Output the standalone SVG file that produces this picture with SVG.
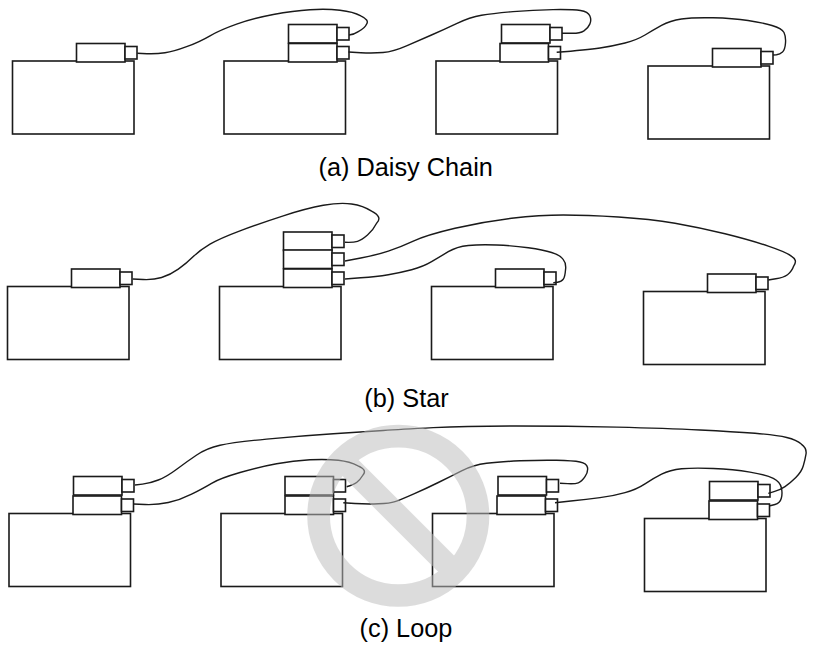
<svg xmlns="http://www.w3.org/2000/svg" width="813" height="649" viewBox="0 0 813 649">
<style>
.b{fill:#fff;stroke:#1a1a1a;stroke-width:1.6}
.w{fill:none;stroke:#1a1a1a;stroke-width:1.4}
.t{font-family:"Liberation Sans",Arial,sans-serif;font-size:25.3px;fill:#000;text-anchor:middle}
</style>
<defs>
<symbol id="pc" overflow="visible"><rect class="b" x="0" y="0" width="121.5" height="73"/></symbol>
<symbol id="card" overflow="visible"><rect class="b" x="0" y="0" width="48.5" height="18.5"/><rect class="b" x="48.5" y="3" width="12" height="12.5"/></symbol>
</defs>
<rect width="813" height="649" fill="#fff"/>
<g id="node-a1"><use href="#pc" x="12.5" y="61"/><use href="#card" x="76.5" y="43.5"/></g>
<g id="node-a2"><use href="#pc" x="224" y="61"/><use href="#card" x="288.5" y="24.5"/><use href="#card" x="288.5" y="43.5"/></g>
<g id="node-a3"><use href="#pc" x="436" y="61"/><use href="#card" x="501.5" y="24.5"/><use href="#card" x="500" y="43.5"/></g>
<g id="node-a4"><use href="#pc" x="648" y="66"/><use href="#card" x="712.5" y="48.5"/></g>
<g id="node-b1"><use href="#pc" x="7.5" y="286.5"/><use href="#card" x="71.5" y="269"/></g>
<g id="node-b2"><use href="#pc" x="219.5" y="286.5"/><use href="#card" x="283.5" y="232"/><use href="#card" x="283.5" y="250"/><use href="#card" x="283.5" y="269"/></g>
<g id="node-b3"><use href="#pc" x="431.5" y="286.5"/><use href="#card" x="495.5" y="269"/></g>
<g id="node-b4"><use href="#pc" x="643.5" y="291.5"/><use href="#card" x="707.5" y="274"/></g>
<g id="node-c1"><use href="#pc" x="9" y="513.5"/><use href="#card" x="73.5" y="476.5"/><use href="#card" x="73" y="496"/></g>
<g id="node-c2"><use href="#pc" x="221" y="513.5"/><use href="#card" x="285" y="476.5"/><use href="#card" x="285" y="496"/></g>
<g id="node-c3"><use href="#pc" x="432.5" y="513.5"/><use href="#card" x="498" y="476.5"/><use href="#card" x="497" y="496"/></g>
<g id="node-c4"><use href="#pc" x="644.5" y="518.5"/><use href="#card" x="709.5" y="481.5"/><use href="#card" x="709" y="501"/></g>
<g id="connectors">
<path class="w" d="M137.3 53.3 L147 53.7 Q156.7 54 165 52.8 Q173.3 51.7 186.6 46.7 Q200 41.7 210 35.8 Q220 30 236.6 24.1 Q253.3 18.3 273.3 14.5 Q293.3 10.7 310 9.7 Q326.7 8.7 340 10.2 Q353.3 11.7 360.8 15.8 Q369.5 20 366.6 24.1 Q365 28.3 358.3 31.6 Q354 34.5 349 35"/>
<path class="w" d="M348.5 52 L360.8 52.7 Q373 53.3 383 52.5 Q393 51.7 406.5 45.8 Q420 40 431.5 35 Q443 30 456.5 23.6 Q470 17.3 481.5 15.3 Q493 13.3 513 11.6 Q533 10 553 9.6 Q573 9.3 580.5 10.5 Q588 11.7 589.8 15.8 Q591.7 20 589.8 24.1 Q588 28.3 584 30.8 Q580 33.3 572.5 33.3 L562 33.3"/>
<path class="w" d="M556.7 52.3 Q586.7 50 600 48 Q613 46 625 43 Q636.7 40 645 35 Q653 30 661.5 25.3 Q670 20.7 681.5 19 Q693 17.3 713 17.8 Q733 18.3 748 20.5 Q763 22.7 772 25.5 Q781.7 28.3 784 32.5 Q786 36.7 785.5 43 Q785 50 782.5 52 Q780 54.3 776.5 54.7 L773 55"/>
<path class="w" d="M132.7 279 L143 279.5 Q153.3 280 161.6 277.5 Q170 275 178.3 269.1 Q186.7 263.3 193.3 256.6 Q200 250 210 244.1 Q220 238.3 240 230.8 Q260 223.3 283.3 215.8 Q306.7 208.3 323.3 205.3 Q340 202.3 351.6 204 Q363.3 205.7 371.6 211.2 Q383 217 376.6 223.3 Q373.3 230 367.5 235 Q361.7 240 357.5 241.3 Q353.3 242.7 345 242.3"/>
<path class="w" d="M345 261 L360.8 258 Q376.7 255 388.3 251.1 Q400 247.3 413.3 241.1 Q426.7 235 455 228.3 Q483.3 221.7 511.6 218.3 Q540 215 563.3 215 Q586.7 215 618.3 217 Q650 219 675 223.3 Q700 227.7 725 233.8 Q750 240 768.3 246.1 Q786.7 252.3 791.3 256.1 Q798 260 793.8 265.8 Q791.7 271.7 787.5 274.7 Q783.3 277.7 775.8 278.8 L768.3 280"/>
<path class="w" d="M345 279 L360.8 277.8 Q376.7 276.7 388.3 274.7 Q400 272.7 411.6 269.7 Q423.3 266.7 431.6 261.7 Q440 256.7 448.3 251.7 Q456.7 246.7 468.3 245.5 Q480 244.3 496.6 245 Q513.3 245.7 528.3 247.8 Q543.3 250 551.6 252.5 Q560 255 563 259.1 Q566.5 263.3 565.5 270 Q565 276.7 563.3 279.2 Q561.7 281.7 557.5 282.2 L553.3 282.7"/>
<path class="w" d="M135 485 L142.5 484.1 Q150 483.3 158.3 480 Q166.7 476.7 176.7 469.2 Q186.7 461.7 196.7 455 Q206.7 448.3 220 445.3 Q233.3 442.3 266.6 439.1 Q300 436 333.3 433.8 Q366.7 431.7 383.3 430.5 Q400 429.3 433.3 427.6 Q466.7 426 516.7 426 Q566.7 426 616.7 427.1 Q666.7 428.3 700 430 Q733.3 431.7 755 433.3 Q776.7 435 786.7 437.5 Q796.7 440 801.3 444.1 Q807 448.3 806 454.1 Q805 460 803.3 465.8 Q801.7 471.7 795.8 477.5 Q790 483.3 785 486.6 Q780 490 774 491.6 L768.3 493.3"/>
<path class="w" d="M133.3 504 L145 504.5 Q156.7 505 168.3 502.5 Q180 500 191.6 494.1 Q203.3 488.3 211.6 483.3 Q220 478.3 240 472.5 Q260 466.7 276.6 463.7 Q293.3 460.7 310 459.8 Q326.7 459 338.3 460.3 Q350 461.7 358 465.8 Q367.5 470 363 475 Q360 480 356.6 482.5 Q353.3 485 346.7 486.7"/>
<path class="w" d="M343.3 502.7 L355 503.5 Q366.7 504.3 378.3 503.8 Q390 503.3 395 501.6 Q400 500 413.3 494.1 Q426.7 488.3 438.3 482.5 Q450 476.7 461.6 470.8 Q473.3 465 486.6 463.3 Q500 461.7 520 460.8 Q540 460 556.6 460.3 Q573.3 460.7 580 462 Q586.7 463.3 587.5 467.5 Q588.3 471.7 585 476.7 Q581.7 481.7 578.3 482.8 Q575 484 567.5 483.6 L560 483.3"/>
<path class="w" d="M555 502.7 L570.8 501 Q586.7 499.3 600 497.6 Q613.3 496 625 492.6 Q636.7 489.3 645 483.8 Q653.3 478.3 661.6 474.1 Q670 470 681.6 468.8 Q693.3 467.7 713.3 468.5 Q733.3 469.3 750 472.1 Q766.7 475 773.3 478.3 Q780 481.7 781.3 487.5 Q782.7 493.3 781.3 498.3 Q780 503.3 775 504.5 L770 505.7"/>
</g>
<text class="t" x="405.7" y="176">(a) Daisy Chain</text>
<text class="t" x="406.5" y="406.5">(b) Star</text>
<text class="t" x="406" y="636.5">(c) Loop</text>
<g id="prohibited" opacity="0.52" fill="none" stroke="#bebebe" stroke-width="22.7">
<circle cx="398.3" cy="515.8" r="79.7"/>
<line x1="343" y1="460.5" x2="453.5" y2="571"/>
</g>
</svg>
